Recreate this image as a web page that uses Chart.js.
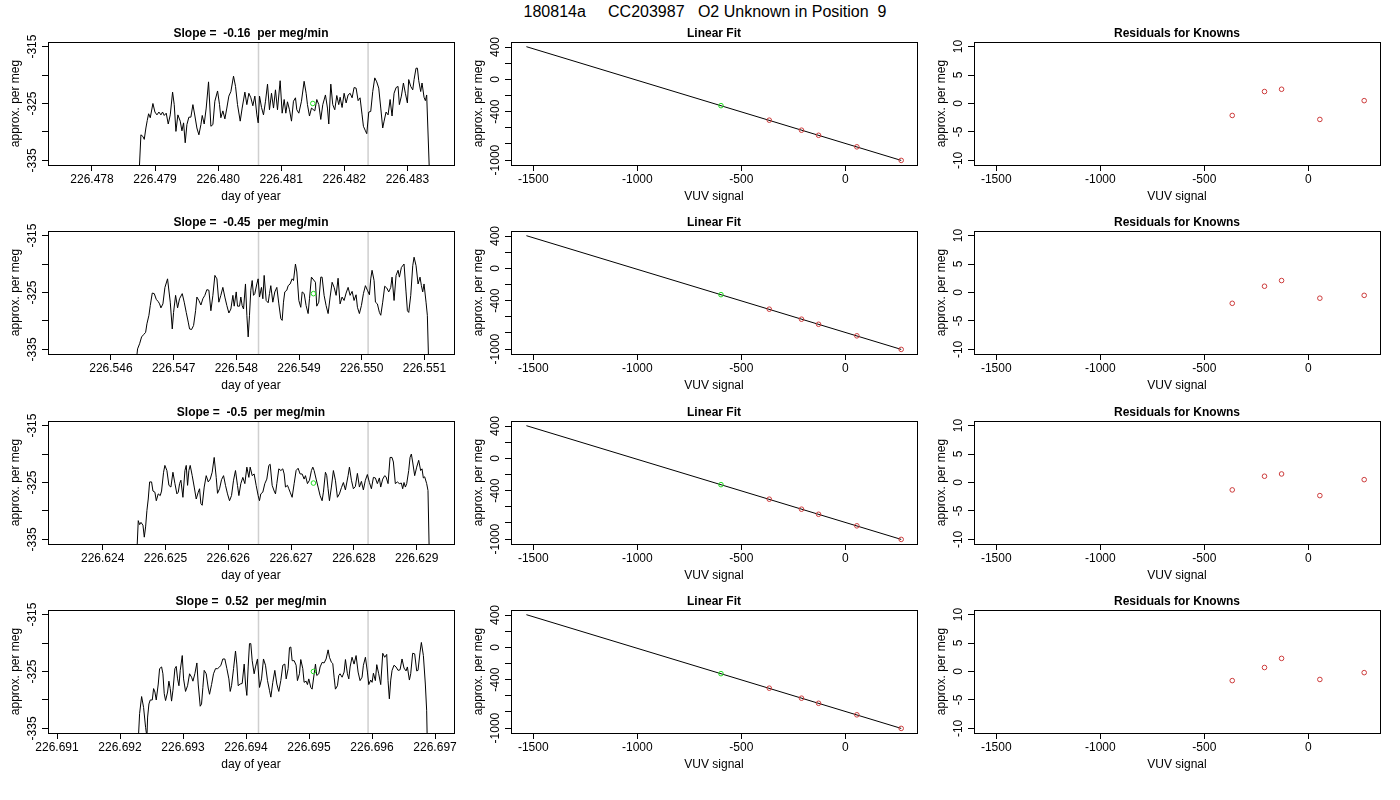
<!DOCTYPE html>
<html>
<head>
<meta charset="utf-8">
<title>180814a CC203987 O2 Unknown in Position 9</title>
<script src="https://cdn.jsdelivr.net/npm/chart.js@4.4.1/dist/chart.umd.min.js"></script>
<style>
  html, body { margin: 0; padding: 0; background: #fff; }
  body { position: relative; width: 1400px; height: 800px; overflow: hidden; font-family: 'Liberation Sans', Arial, Helvetica, sans-serif; }
  #main-title { position: absolute; top: 0; left: 5px; width: 1400px; text-align: center; font-size: 16px; line-height: 24px; white-space: pre; color: #000; }
  .panel { position: absolute; }
</style>
</head>
<body>
<div id="main-title"></div>
<script>
// ---- data ----
const mainTitle = '180814a     CC203987   O2 Unknown in Position  9';
const slopeTitles = [
    'Slope =  -0.16  per meg/min',
    'Slope =  -0.45  per meg/min',
    'Slope =  -0.5  per meg/min',
    'Slope =  0.52  per meg/min'
];

// left column: day of year axis
const dayStart = [226.478, 226.546, 226.624, 226.691];   // origin of the run offsets below
const dayRange = [[226.477303, 226.483739], [226.544996, 226.551472], [226.623130, 226.629594], [226.690857, 226.697301]];
const dayTicks = [
    [226.478, 226.479, 226.480, 226.481, 226.482, 226.483],
    [226.546, 226.547, 226.548, 226.549, 226.550, 226.551],
    [226.624, 226.625, 226.626, 226.627, 226.628, 226.629],
    [226.691, 226.692, 226.693, 226.694, 226.695, 226.696, 226.697]
];
const cellLines = [[226.480640, 226.482377], [226.548354, 226.550102], [226.626481, 226.628226], [226.694198, 226.695937]];
const unknownMean = [[226.481501, -325.0], [226.549230, -325.2], [226.627356, -325.1], [226.695070, -325.0]];
const runRange = [-335.8, -314.2];
const runTicks = [-335, -330, -325, -320, -315];
const runLabels = [-335, -325, -315];

// runs: [offset from dayStart in 1e-6 day, approx. per meg]
const run1 = [[744,-338],[776,-330.5],[808,-330.8],[829,-331.3],[855,-329.3],[876,-328],[898,-326.8],[924,-327.5],[966,-325.0],[998,-326.5],
[1030,-327.0],[1061,-326.5],[1093,-327.0],[1119,-326.5],[1146,-327.1],[1177,-326.7],[1209,-328.6],[1241,-327.0],[1278,-323.0],[1304,-325.2],
[1331,-329.9],[1362,-327.0],[1399,-328.1],[1426,-329.8],[1452,-328.4],[1478,-331.9],[1505,-328.7],[1536,-327.4],[1568,-327.4],[1600,-325.2],
[1632,-327.2],[1663,-329.3],[1695,-330.5],[1727,-328.7],[1748,-327.1],[1779,-328.6],[1811,-325.8],[1848,-321.2],[1885,-329.0],[1917,-328.7],
[1948,-324.6],[1991,-322.8],[2022,-325.2],[2043,-327.5],[2075,-326.3],[2107,-327.7],[2138,-325.8],[2170,-323.7],[2202,-322.9],[2244,-320.2],
[2276,-322.0],[2307,-325.2],[2350,-328.1],[2381,-325.8],[2424,-323.0],[2455,-325.2],[2487,-323.2],[2519,-324.0],[2550,-325.4],[2582,-323.7],
[2614,-327.0],[2635,-328.4],[2656,-323.7],[2688,-325.7],[2719,-327.0],[2751,-324.6],[2783,-321.6],[2814,-326.1],[2846,-323.2],[2878,-325.8],
[2909,-322.6],[2941,-326.1],[2983,-321.0],[3015,-326.7],[3047,-324.3],[3073,-326.7],[3099,-324.7],[3131,-326.1],[3163,-328.1],[3194,-324.6],
[3226,-324.0],[3247,-326.1],[3279,-326.7],[3321,-324.6],[3363,-321.1],[3395,-323.2],[3416,-325.2],[3448,-327.2],[3480,-325.8],[3532,-326.3],
[3564,-324.3],[3596,-325.2],[3627,-327.8],[3659,-325.2],[3701,-323.5],[3733,-325.8],[3754,-328.6],[3786,-321.6],[3817,-325.2],[3849,-326.1],
[3881,-323.6],[3912,-325.2],[3934,-323.9],[3965,-325.7],[3997,-323.2],[4029,-324.9],[4060,-323.5],[4092,-323.2],[4124,-324.0],[4155,-322.2],
[4187,-322.3],[4219,-324.5],[4250,-324.0],[4282,-327.0],[4303,-329.0],[4335,-329.8],[4356,-330.3],[4388,-326.5],[4419,-326.4],[4451,-322.9],
[4483,-320.5],[4514,-321.2],[4546,-322.3],[4578,-325.8],[4609,-329.3],[4631,-328.1],[4662,-326.5],[4694,-327.0],[4726,-324.3],[4757,-327.2],
[4789,-323.2],[4821,-322.2],[4852,-322.0],[4873,-325.2],[4905,-323.7],[4937,-321.4],[4968,-323.2],[5000,-324.9],[5021,-320.8],[5053,-322.0],
[5085,-322.6],[5106,-320.8],[5137,-318.8],[5159,-318.8],[5180,-321.0],[5211,-322.9],[5232,-321.4],[5264,-323.9],[5285,-324.5],[5306,-323.5],
[5349,-337]];

const run2 = [[404,-337],[425,-334.9],[457,-334.0],[489,-332.8],[521,-332.4],[553,-332.0],[574,-330.5],[606,-329.0],[627,-327.3],[659,-325.1],
[691,-325.2],[723,-326.2],[754,-326.6],[776,-327.0],[797,-327.7],[829,-327.0],[861,-324.1],[903,-322.6],[946,-326.7],[978,-331.4],
[999,-328.5],[1031,-325.5],[1063,-327.7],[1094,-326.1],[1137,-325.2],[1169,-326.7],[1201,-328.5],[1233,-330.2],[1254,-331.4],[1286,-331.5],
[1318,-330.8],[1350,-328.2],[1371,-325.8],[1403,-326.4],[1435,-327.2],[1466,-326.1],[1498,-325.5],[1530,-324.5],[1562,-324.6],[1594,-328.2],
[1626,-325.5],[1658,-322.0],[1690,-322.6],[1721,-326.7],[1753,-325.5],[1785,-324.1],[1817,-325.8],[1849,-327.3],[1881,-328.6],[1913,-327.9],
[1945,-325.5],[1966,-327.4],[1998,-324.9],[2019,-327.4],[2051,-327.4],[2072,-325.8],[2093,-327.3],[2115,-327.9],[2146,-323.5],[2168,-329.0],
[2189,-332.8],[2210,-329.0],[2231,-324.6],[2253,-322.9],[2274,-325.5],[2295,-325.2],[2327,-323.5],[2348,-322.6],[2370,-325.8],[2401,-324.1],
[2423,-326.1],[2444,-322.0],[2476,-326.4],[2508,-326.8],[2529,-325.2],[2550,-323.8],[2582,-326.7],[2614,-324.9],[2646,-324.1],[2678,-327.0],
[2710,-329.6],[2731,-329.9],[2752,-326.7],[2773,-324.9],[2805,-324.6],[2827,-323.8],[2858,-323.5],[2890,-322.6],[2912,-322.9],[2943,-320.0],
[2965,-321.4],[2997,-326.4],[3028,-327.6],[3050,-324.9],[3082,-325.2],[3113,-327.3],[3145,-328.7],[3167,-326.1],[3198,-322.3],[3262,-323.2],
[3283,-327.4],[3315,-326.7],[3347,-322.3],[3368,-322.3],[3400,-325.5],[3432,-327.3],[3464,-328.7],[3496,-325.8],[3528,-323.2],[3560,-324.1],
[3592,-325.5],[3623,-322.5],[3655,-327.0],[3687,-325.8],[3719,-326.4],[3751,-325.1],[3783,-324.1],[3815,-325.5],[3847,-324.8],[3878,-326.4],
[3910,-325.4],[3932,-327.6],[3963,-328.7],[3995,-327.3],[4027,-325.2],[4059,-323.8],[4091,-324.6],[4123,-325.4],[4144,-322.6],[4165,-321.1],
[4197,-322.9],[4219,-326.7],[4250,-327.0],[4282,-328.5],[4304,-329.0],[4335,-326.7],[4367,-323.9],[4399,-324.2],[4431,-324.9],[4463,-324.1],
[4484,-322.3],[4516,-326.4],[4548,-322.0],[4580,-321.1],[4601,-322.3],[4633,-320.6],[4675,-320.0],[4707,-324.9],[4729,-328.2],[4750,-328.5],
[4782,-325.5],[4814,-320.3],[4835,-318.8],[4867,-320.3],[4899,-323.5],[4930,-322.3],[4952,-323.8],[4973,-324.9],[4994,-323.5],[5026,-326.7],
[5047,-329.0],[5069,-338]];

const run3 = [[546,-337],[567,-331.7],[589,-332.4],[610,-332.0],[642,-332.5],[663,-334.6],[684,-332.8],[705,-329.9],[726,-327.9],[748,-324.9],
[779,-324.9],[801,-326.5],[832,-326.7],[854,-328.2],[885,-327.0],[917,-327.3],[938,-326.5],[970,-323.2],[991,-322.0],[1023,-322.9],
[1055,-325.5],[1087,-325.8],[1119,-323.2],[1151,-325.2],[1182,-327.0],[1204,-326.7],[1225,-325.2],[1246,-324.6],[1278,-327.6],[1310,-322.9],
[1331,-322.0],[1352,-325.5],[1373,-322.9],[1394,-322.0],[1426,-323.8],[1458,-325.8],[1490,-327.9],[1522,-326.7],[1543,-326.1],[1564,-328.7],
[1585,-329.0],[1617,-325.8],[1649,-323.8],[1681,-324.9],[1713,-324.4],[1744,-323.2],[1776,-320.6],[1808,-324.1],[1829,-326.9],[1861,-326.1],
[1893,-324.5],[1925,-323.8],[1956,-325.5],[1988,-327.0],[2020,-328.2],[2052,-327.3],[2084,-324.6],[2115,-322.9],[2147,-325.5],[2169,-327.3],
[2200,-325.2],[2232,-324.1],[2264,-325.2],[2296,-322.3],[2328,-324.1],[2349,-322.3],[2381,-323.8],[2412,-323.5],[2444,-325.5],[2476,-327.3],
[2497,-328.2],[2518,-327.0],[2550,-326.7],[2582,-325.2],[2614,-324.4],[2646,-322.0],[2667,-321.8],[2699,-325.5],[2731,-326.5],[2752,-327.0],
[2773,-325.2],[2805,-322.6],[2837,-322.9],[2868,-322.6],[2890,-323.5],[2911,-325.8],[2943,-325.5],[2964,-326.1],[2985,-326.7],[3017,-327.6],
[3049,-325.2],[3080,-322.9],[3112,-322.5],[3144,-323.5],[3176,-323.5],[3208,-324.4],[3229,-323.8],[3261,-325.2],[3293,-324.6],[3324,-322.9],
[3346,-322.3],[3367,-322.9],[3399,-324.4],[3430,-325.8],[3462,-327.3],[3494,-328.2],[3515,-326.7],[3547,-323.2],[3568,-323.8],[3589,-326.1],
[3611,-328.2],[3642,-325.8],[3674,-322.9],[3706,-324.6],[3738,-327.6],[3770,-327.0],[3802,-325.9],[3833,-325.0],[3865,-326.3],[3908,-323.8],
[3929,-322.3],[3961,-324.6],[3992,-326.1],[4024,-325.7],[4056,-323.4],[4088,-325.8],[4120,-324.8],[4151,-326.3],[4183,-324.6],[4215,-323.6],
[4247,-325.0],[4279,-326.1],[4311,-324.1],[4342,-324.2],[4374,-325.2],[4406,-324.2],[4427,-325.8],[4459,-324.4],[4491,-323.8],[4512,-324.0],
[4544,-325.2],[4576,-320.6],[4607,-320.6],[4629,-321.4],[4660,-325.2],[4692,-324.9],[4724,-325.2],[4756,-325.1],[4777,-326.1],[4798,-325.0],
[4820,-325.8],[4841,-325.2],[4873,-322.9],[4894,-320.6],[4915,-320.0],[4936,-321.4],[4968,-323.8],[5000,-322.3],[5032,-321.1],[5063,-322.9],
[5085,-322.6],[5106,-324.2],[5127,-324.0],[5159,-325.2],[5180,-326.4],[5201,-338]];

const run4 = [[1290,-337],[1311,-332.4],[1343,-329.4],[1374,-331.3],[1406,-334.8],[1427,-336.5],[1438,-333.0],[1459,-330.7],[1480,-330.0],[1512,-330.0],
[1533,-328.0],[1554,-328.6],[1575,-330.0],[1607,-327.2],[1628,-324.5],[1660,-324.2],[1681,-325.4],[1702,-328.9],[1723,-330.1],[1755,-328.6],
[1776,-326.7],[1797,-328.0],[1818,-330.2],[1840,-328.3],[1871,-324.5],[1892,-324.1],[1914,-326.3],[1935,-327.5],[1956,-324.8],[1988,-322.2],
[2009,-326.3],[2040,-328.5],[2072,-327.5],[2104,-325.4],[2136,-326.0],[2157,-326.7],[2188,-325.4],[2220,-323.5],[2241,-327.2],[2273,-331.1],
[2294,-330.7],[2315,-327.8],[2336,-324.8],[2368,-325.4],[2400,-327.9],[2421,-329.0],[2453,-327.3],[2484,-325.4],[2516,-324.5],[2548,-324.5],
[2580,-324.2],[2601,-323.9],[2632,-322.8],[2664,-322.8],[2696,-324.5],[2728,-326.3],[2749,-328.5],[2770,-327.5],[2802,-324.5],[2833,-321.4],
[2854,-323.7],[2876,-327.5],[2907,-327.2],[2939,-327.1],[2971,-323.7],[2992,-327.2],[3013,-329.2],[3034,-324.2],[3055,-320.1],[3076,-320.1],
[3098,-323.1],[3129,-325.4],[3150,-324.2],[3182,-322.8],[3214,-327.8],[3246,-326.3],[3277,-322.8],[3309,-323.9],[3341,-326.6],[3372,-328.3],
[3394,-329.5],[3425,-326.9],[3457,-324.8],[3489,-327.2],[3520,-328.5],[3552,-326.6],[3584,-323.9],[3616,-323.7],[3637,-326.3],[3668,-324.5],
[3690,-320.8],[3711,-320.7],[3732,-323.1],[3764,-323.1],[3795,-323.9],[3816,-326.6],[3848,-325.4],[3869,-322.9],[3901,-324.5],[3922,-326.9],
[3954,-326.7],[3975,-327.3],[3996,-326.3],[4028,-327.8],[4049,-328.1],[4102,-323.7],[4123,-325.7],[4155,-325.4],[4176,-324.2],[4208,-323.4],
[4239,-323.5],[4271,-322.8],[4303,-321.2],[4324,-322.5],[4356,-323.4],[4377,-323.6],[4398,-326.0],[4419,-328.1],[4451,-327.5],[4472,-325.7],
[4493,-325.4],[4525,-326.0],[4557,-325.1],[4578,-322.9],[4609,-325.4],[4631,-326.3],[4652,-324.2],[4683,-322.5],[4715,-323.7],[4747,-322.2],
[4779,-325.1],[4810,-326.6],[4842,-326.0],[4863,-323.9],[4895,-322.5],[4927,-325.1],[4948,-327.3],[4979,-326.5],[5001,-326.9],[5022,-325.3],
[5053,-326.6],[5075,-323.8],[5106,-325.4],[5138,-327.3],[5170,-321.8],[5201,-322.5],[5233,-322.0],[5254,-326.6],[5275,-329.8],[5297,-326.5],
[5318,-324.8],[5349,-323.9],[5381,-324.2],[5413,-324.8],[5445,-324.7],[5476,-322.8],[5508,-324.4],[5540,-324.9],[5561,-324.2],[5593,-326.5],
[5614,-325.4],[5645,-321.8],[5677,-321.9],[5709,-324.9],[5730,-324.8],[5762,-321.6],[5783,-319.9],[5815,-322.2],[5846,-327.2],[5867,-331.8],
[5878,-338]];
const runs = [run1, run2, run3, run4];

// middle and right columns: VUV signal axis
const vuvRange = [-1607, 344];
const vuvTicks = [-1500, -1000, -500, 0];
const knownsX = [-366, -211, -129, 55, 268];
const knownsY = [-506, -630, -693, -836, -1004];
const unknownPoint = [-598, -326];
const fitLine = [[-1533, 404], [268, -1004]];
const fitRange = [-1061, 462];
const fitTicks = [-1000, -800, -600, -400, -200, 0, 200, 400];
const fitLabels = [-1000, -400, 0, 400];
const residuals = [
    [-2.1, 2.1, 2.5, -2.8, 0.5],
    [-1.9, 1.1, 2.1, -1.0, -0.5],
    [-1.3, 1.1, 1.5, -2.3, 0.5],
    [-1.6, 0.7, 2.3, -1.4, -0.2]
];
const residRange = [-10.8, 10.8];
const residTicks = [-10, -5, 0, 5, 10];

// ---- drawing ----
const FONT = "'Liberation Sans', Arial, Helvetica, sans-serif";
const RED = '#cc3b3b';
const GREEN = '#22dd22';
const GRAY = '#cfcfcf';
Chart.defaults.font.family = FONT;
Chart.defaults.font.size = 12;
Chart.defaults.color = '#000';

// whole pixels everywhere so the 1px lines stay crisp
const AXIS_W = 47, AXIS_H = 40, TITLE_H = 20, RIGHT_PAD = 12;
const BOX_W = 406, BOX_H = 123;
const colLeft = [48, 511, 974];
const rowTop = [42, 231, 421, 610];

document.getElementById('main-title').textContent = mainTitle;

// y tick labels are rotated; chart.js centres them widest/2 away from the tick,
// so pick a padding that puts every label centre 15px left of the frame
const measureCtx = document.createElement('canvas').getContext('2d');
measureCtx.font = '12px ' + FONT;
function labelPadding(labels) {
    const widest = Math.max(...labels.map(s => measureCtx.measureText(String(s)).width));
    return 15 - 6 - widest / 2;
}

const framePlugin = {
    id: 'frame',
    afterDatasetsDraw(chart) {
        const { ctx, chartArea: a } = chart;
        ctx.save();
        ctx.strokeStyle = '#000';
        ctx.lineWidth = 1;
        ctx.strokeRect(a.left + 0.5, a.top + 0.5, a.right - a.left, a.bottom - a.top);
        ctx.restore();
    }
};

function xAxis(range, ticks, fmt, title) {
    return {
        type: 'linear', position: 'bottom', min: range[0], max: range[1],
        afterBuildTicks: s => { s.ticks = ticks.map(v => ({ value: v })); },
        afterFit: s => { s.height = AXIS_H; },
        grid: { drawOnChartArea: false, tickLength: 6, color: '#000', lineWidth: 1 },
        border: { display: false },
        ticks: { autoSkip: false, maxRotation: 0, padding: 1, callback: v => fmt(v) },
        title: { display: true, text: title, padding: { top: 0, bottom: 1 } }
    };
}

function yAxis(range, ticks, labelled) {
    return {
        type: 'linear', position: 'left', min: range[0], max: range[1],
        afterBuildTicks: s => { s.ticks = ticks.map(v => ({ value: v })); },
        afterFit: s => { s.width = AXIS_W; },
        grid: { drawOnChartArea: false, tickLength: 6, color: '#000', lineWidth: 1 },
        border: { display: false },
        ticks: {
            autoSkip: false, minRotation: 90, maxRotation: 90, crossAlign: 'center',
            padding: labelPadding(labelled),
            callback: v => labelled.includes(v) ? String(v) : ''
        },
        title: { display: true, text: 'approx. per meg', padding: { top: 7, bottom: 0 } }
    };
}

function circles(points, color) {
    return { data: points, showLine: false, pointStyle: 'circle', pointRadius: 2.3,
             pointBorderWidth: 1, pointBorderColor: color, pointBackgroundColor: 'rgba(0,0,0,0)' };
}

function path(points, color, width) {
    return { data: points, showLine: true, borderColor: color, borderWidth: width, pointRadius: 0, tension: 0 };
}

function makeCanvas(row, col) {
    const div = document.createElement('div');
    div.className = 'panel';
    div.style.left = (colLeft[col] - AXIS_W) + 'px';
    div.style.top = (rowTop[row] - TITLE_H) + 'px';
    div.style.width = (AXIS_W + BOX_W + RIGHT_PAD) + 'px';
    div.style.height = (TITLE_H + BOX_H + AXIS_H) + 'px';
    const canvas = document.createElement('canvas');
    div.appendChild(canvas);
    document.body.appendChild(div);
    return canvas;
}

function drawPanel(row, col, title, datasets, x, y) {
    new Chart(makeCanvas(row, col), {
        type: 'scatter',
        data: { datasets },
        options: {
            responsive: true,
            maintainAspectRatio: false,
            animation: false,
            events: [],
            layout: { padding: { left: 0, right: RIGHT_PAD, top: 0, bottom: 0 }, autoPadding: false },
            scales: { x, y },
            plugins: {
                legend: { display: false },
                tooltip: { enabled: false },
                title: { display: true, text: title, fullSize: false, font: { size: 12, weight: 'bold' }, padding: { top: 4.5, bottom: 1.1 } }
            }
        },
        plugins: [framePlugin]
    });
}

const dayFmt = v => v.toFixed(3);
const intFmt = v => String(v);
const knownPts = knownsX.map((x, i) => ({ x, y: knownsY[i] }));

runs.forEach((run, r) => {
    const series = run.map(([dt, v]) => ({ x: dayStart[r] + dt / 1e6, y: v }));
    const marks = cellLines[r].map(d => path([{ x: d, y: runRange[0] - 5 }, { x: d, y: runRange[1] + 5 }], GRAY, 1.5));
    drawPanel(r, 0, slopeTitles[r],
        [circles([{ x: unknownMean[r][0], y: unknownMean[r][1] }], GREEN), path(series, '#000', 1), ...marks],
        xAxis(dayRange[r], dayTicks[r], dayFmt, 'day of year'),
        yAxis(runRange, runTicks, runLabels));

    drawPanel(r, 1, 'Linear Fit',
        [circles([{ x: unknownPoint[0], y: unknownPoint[1] }], GREEN), circles(knownPts, RED),
         path(fitLine.map(([x, y]) => ({ x, y })), '#000', 1)],
        xAxis(vuvRange, vuvTicks, intFmt, 'VUV signal'),
        yAxis(fitRange, fitTicks, fitLabels));

    drawPanel(r, 2, 'Residuals for Knowns',
        [circles(knownsX.map((x, i) => ({ x, y: residuals[r][i] })), RED)],
        xAxis(vuvRange, vuvTicks, intFmt, 'VUV signal'),
        yAxis(residRange, residTicks, residTicks));
});
</script>
</body>
</html>
